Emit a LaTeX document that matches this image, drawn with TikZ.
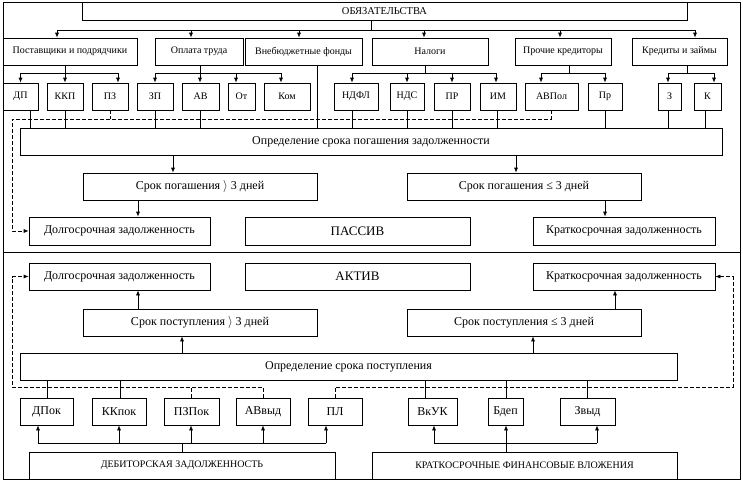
\documentclass[tikz,border=0pt]{standalone}
\usepackage{fontspec}
\setmainfont{Liberation Serif}
\usetikzlibrary{arrows.meta,calc}
\newcommand\Bx[7]{\node[bx,#7,minimum width={#4pt-#2pt},minimum height={#5pt-#3pt}] (#1) at ({(#2+#4)/2},{(#3+#5)/2}) {#6};}
\begin{document}
\begin{tikzpicture}[x=1pt,y=-1pt,
  bx/.style={draw,line width=0.7pt,inner sep=0pt,font=\fontsize{12}{13}\selectfont},
  sm/.style={font=\fontsize{10}{11}\selectfont},
  ttl/.style={font=\fontsize{10.5}{11}\selectfont},
  capstxt/.style={font=\fontsize{10}{11}\selectfont},
  big/.style={font=\fontsize{13}{14}\selectfont},
  ln/.style={line width=0.7pt},
  arr/.style={ln,-{Latex[length=5pt,width=4pt]}},
  dsh/.style={ln,dash pattern=on 4pt off 2pt},
  darr/.style={dsh,-{Latex[length=5pt,width=4pt]}}]
\useasboundingbox (0,0) rectangle (743,482);
% frame
\draw[ln] (3,2) rectangle (740,479);
\draw[ln] (3,252) -- (740,252);
% top
\Bx{obl}{82}{2}{687}{20}{ОБЯЗАТЕЛЬСТВА}{ttl}
\Bx{post}{3}{38}{137}{65}{Поставщики и подрядчики}{sm}
\Bx{opl}{155}{38}{243}{65}{Оплата труда}{sm}
\Bx{vne}{245}{38}{362}{65}{Внебюджетные фонды}{sm}
\Bx{nal}{372}{38}{488}{65}{Налоги}{sm}
\Bx{proch}{515}{38}{611}{65}{Прочие кредиторы}{sm}
\Bx{kred}{632}{38}{727}{65}{Кредиты и займы}{sm}
% leaves
\Bx{dp}{3}{83}{38}{110}{ДП}{sm}
\Bx{kkp}{47}{83}{83}{110}{ККП}{sm}
\Bx{pz}{92}{83}{128}{110}{ПЗ}{sm}
\Bx{zp}{137}{83}{173}{110}{ЗП}{sm}
\Bx{av}{182}{83}{219}{110}{АВ}{sm}
\Bx{ot}{228}{83}{255}{110}{От}{sm}
\Bx{kom}{264}{83}{310}{110}{Ком}{sm}
\Bx{ndfl}{334}{83}{378}{110}{НДФЛ}{sm}
\Bx{nds}{390}{83}{424}{110}{НДС}{sm}
\Bx{pr}{434}{83}{470}{110}{ПР}{sm}
\Bx{im}{480}{83}{516}{110}{ИМ}{sm}
\Bx{avpol}{525}{83}{578}{110}{АВПол}{sm}
\Bx{prk}{588}{83}{622}{110}{Пр}{sm}
\Bx{z}{658}{83}{681}{110}{З}{sm}
\Bx{k}{694}{83}{721}{110}{К}{sm}
% upper half
\Bx{opp}{20}{128}{722}{155}{Определение срока погашения задолженности}{}
\Bx{srok1}{83}{173}{317}{200}{Срок погашения $\rangle$ 3 дней}{}
\Bx{srok2}{407}{173}{641}{200}{Срок погашения ≤ 3 дней}{}
\Bx{dolg1}{29}{217}{210}{245}{Долгосрочная задолженность}{}
\Bx{pass}{245}{217}{470}{245}{ПАССИВ}{big}
\Bx{krat1}{533}{217}{715}{245}{Краткосрочная задолженность}{}
% lower half
\Bx{dolg2}{29}{263}{210}{290}{Долгосрочная задолженность}{}
\Bx{akt}{245}{263}{470}{290}{АКТИВ}{big}
\Bx{krat2}{533}{263}{715}{290}{Краткосрочная задолженность}{}
\Bx{srokp1}{83}{309}{317}{336}{Срок поступления $\rangle$ 3 дней}{}
\Bx{srokp2}{407}{309}{641}{336}{Срок поступления ≤ 3 дней}{}
\Bx{opr2}{20}{353}{677}{380}{Определение срока поступления}{}
\Bx{dpok}{20}{398}{73}{425}{ДПок}{}
\Bx{kkpok}{92}{398}{146}{425}{ККпок}{}
\Bx{pzpok}{164}{398}{219}{425}{ПЗПок}{}
\Bx{avvyd}{236}{398}{290}{425}{АВвыд}{}
\Bx{pl}{308}{398}{362}{425}{ПЛ}{}
\Bx{vkuk}{408}{398}{457}{425}{ВкУК}{}
\Bx{bdep}{488}{398}{523}{425}{Бдеп}{}
\Bx{zvyd}{560}{398}{615}{425}{Звыд}{}
\Bx{deb}{29}{452}{335}{479}{ДЕБИТОРСКАЯ ЗАДОЛЖЕННОСТЬ}{capstxt}
\Bx{kfv}{372}{452}{677}{479}{КРАТКОСРОЧНЫЕ ФИНАНСОВЫЕ ВЛОЖЕНИЯ}{capstxt}
% bus rows
\coordinate (b1) at (0,30);
\coordinate (b2) at (0,73);
\coordinate (b3) at (0,443);
% top bus
\draw[ln] (obl.south -| nal.west) -- (b1 -| nal.west);
\draw[ln] ([xshift=-13pt]post.north |- b1) -- ([xshift=15.5pt]kred.north |- b1);
\foreach \n/\s in {post/-13,opl/-8,vne/-4.5,nal/-6,proch/-3,kred/15.5}
  \draw[arr] ([xshift=\s pt]\n.north |- b1) -- ([xshift=\s pt]\n.north);
% category to leaves
\draw[ln] ([xshift=-5pt]post.south) -- ([xshift=-5pt]post.south |- b2);
\draw[ln] (dp.north |- b2) -- ([xshift=8pt]pz.north |- b2);
\draw[ln] ([xshift=1pt]opl.south) -- ([xshift=1pt]opl.south |- b2);
\draw[ln] (zp.north |- b2) -- ([xshift=-6pt]kom.north |- b2);
\draw[ln] ([xshift=-5pt]nal.south) -- ([xshift=-5pt]nal.south |- b2);
\draw[ln] ([xshift=-4pt]ndfl.north |- b2) -- ([xshift=-2pt]im.north |- b2);
\draw[ln] ([xshift=6pt]proch.south) -- ([xshift=6pt]proch.south |- b2);
\draw[ln] ([xshift=-10.5pt]avpol.north |- b2) -- (prk.north |- b2);
\draw[ln] ([xshift=7.5pt]kred.south) -- ([xshift=7.5pt]kred.south |- b2);
\draw[ln] ([xshift=-1.5pt]z.north |- b2) -- ([xshift=6.5pt]k.north |- b2);
\foreach \n/\s in {dp/0,kkp/0,pz/8,zp/0,av/-0.5,ot/-5.5,kom/-6,ndfl/-4,nds/0,pr/0,im/-2,avpol/-10.5,prk/0,z/-1.5,k/6.5}
  \draw[arr] ([xshift=\s pt]\n.north |- b2) -- ([xshift=\s pt]\n.north);
% leaves to opp
\foreach \n/\s in {dp/9.5,kkp/0,zp/0,av/-0.5,ndfl/-4,nds/0,pr/0,im/-1,prk/0,z/-1.5,k/-2.5}
  \draw[ln] ([xshift=\s pt]\n.south) -- ([xshift=\s pt]\n.south |- opp.north);
\draw[ln] ([xshift=13.5pt]vne.south) -- ([xshift=13.5pt]vne.south |- opp.north);
% dashed top
\coordinate (d1) at (12,119);
\draw[dsh] (pz.south) -- (pz.south |- d1);
\draw[darr] (avpol.south) -- (avpol.south |- d1) -- (d1) -- (d1 |- dolg1.west) -- (dolg1.west);
% middle arrows
\draw[arr] ([xshift=-27pt]srok1.north |- opp.south) -- ([xshift=-27pt]srok1.north);
\draw[arr] ([xshift=-8pt]srok2.north |- opp.south) -- ([xshift=-8pt]srok2.north);
\draw[arr] ([xshift=18.5pt]dolg1.north |- srok1.south) -- ([xshift=18.5pt]dolg1.north);
\draw[arr] ([xshift=-19pt]krat1.north |- srok2.south) -- ([xshift=-19pt]krat1.north);
\draw[arr] ([xshift=18.5pt]dolg2.south |- srokp1.north) -- ([xshift=18.5pt]dolg2.south);
\draw[arr] ([xshift=-9pt]krat2.south |- srokp2.north) -- ([xshift=-9pt]krat2.south);
\draw[arr] ([xshift=-18pt]srokp1.south |- opr2.north) -- ([xshift=-18pt]srokp1.south);
\draw[arr] ([xshift=9pt]srokp2.south |- opr2.north) -- ([xshift=9pt]srokp2.south);
% opr2 to bottom boxes
\foreach \n/\s in {dpok/0.5,kkpok/1,vkuk/-7.5,bdep/0.5,zvyd/0}
  \draw[ln] ([xshift=\s pt]\n.north |- opr2.south) -- ([xshift=\s pt]\n.north);
% dashed bottom
\coordinate (d2) at (12,387);
\coordinate (d3) at (733,387);
\draw[dsh] (pzpok.north) -- (pzpok.north |- d2);
\draw[darr] (avvyd.north) -- (avvyd.north |- d2) -- (d2) -- (d2 |- dolg2.west) -- (dolg2.west);
\draw[darr] (pl.north) -- (pl.north |- d3) -- (d3) -- (d3 |- krat2.east) -- (krat2.east);
% bottom arrows
\draw[ln] (deb.north) -- (deb.north |- b3);
\draw[ln] ([xshift=-8.5pt]dpok.south |- b3) -- ([xshift=-9pt]pl.south |- b3);
\foreach \n/\s in {dpok/-8.5,kkpok/0,pzpok/-0.5,avvyd/0,pl/-9}
  \draw[arr] ([xshift=\s pt]\n.south |- b3) -- ([xshift=\s pt]\n.south);
\draw[arr] ([xshift=0.5pt]bdep.south |- kfv.north) -- ([xshift=0.5pt]bdep.south);
\draw[ln] ([xshift=1.5pt]vkuk.south |- b3) -- ([xshift=9.5pt]zvyd.south |- b3);
\foreach \n/\s in {vkuk/1.5,zvyd/9.5}
  \draw[arr] ([xshift=\s pt]\n.south |- b3) -- ([xshift=\s pt]\n.south);
\end{tikzpicture}
\end{document}
